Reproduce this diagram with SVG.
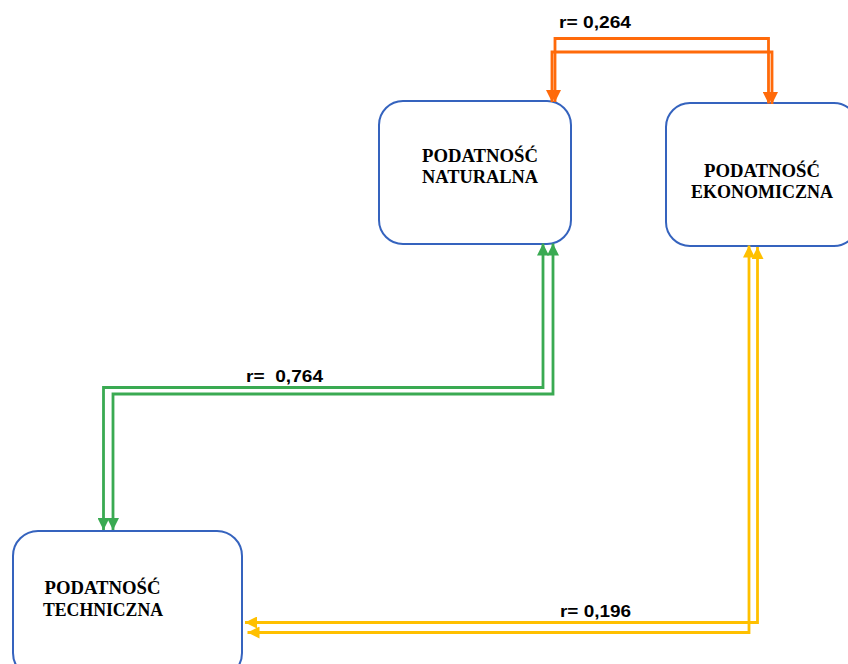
<svg xmlns="http://www.w3.org/2000/svg" width="848" height="664" viewBox="0 0 848 664">
  <style>
    .box { fill: #ffffff; stroke: #3563BE; stroke-width: 2; }
    .node-text { font-family: "Liberation Serif", "Times New Roman", serif; font-weight: bold; font-size: 19.5px; fill: #000000; text-anchor: middle; }
    .r-label { font-family: "Liberation Sans", Arial, sans-serif; font-weight: bold; font-size: 16px; fill: #000000; }
    .link { fill: none; stroke-width: 2.8; stroke-linejoin: miter; }
    .green { stroke: #3AAA52; }
    .gold { stroke: #FFC000; }
    .orange { stroke: #FF6A0A; }
  </style>
  <defs>
    <marker id="arrow-green" viewBox="0 0 12 12" refX="12" refY="6" markerWidth="12" markerHeight="12" markerUnits="userSpaceOnUse" orient="auto-start-reverse">
      <path d="M0,0 L12,6 L0,12 z" fill="#3AAA52"/>
    </marker>
    <marker id="arrow-gold" viewBox="0 0 12 12" refX="12" refY="6" markerWidth="12" markerHeight="12" markerUnits="userSpaceOnUse" orient="auto-start-reverse">
      <path d="M0,0 L12,6 L0,12 z" fill="#FFC000"/>
    </marker>
    <marker id="arrow-orange" viewBox="0 0 12 12" refX="12" refY="6" markerWidth="12" markerHeight="12" markerUnits="userSpaceOnUse" orient="auto-start-reverse">
      <path d="M0,0 L12,6 L0,12 z" fill="#FF6A0A"/>
    </marker>
  </defs>

  <rect width="848" height="664" fill="#ffffff"/>

  <!-- nodes -->
  <g id="node-naturalna">
    <rect class="box" x="379" y="101" width="192" height="143" rx="24" ry="24"/>
    <text class="node-text" x="480" y="162" textLength="116" lengthAdjust="spacingAndGlyphs">PODATNOŚĆ</text>
    <text class="node-text" x="480" y="182.5" textLength="116" lengthAdjust="spacingAndGlyphs">NATURALNA</text>
  </g>

  <g id="node-ekonomiczna">
    <rect class="box" x="666" y="103" width="192" height="143" rx="24" ry="24"/>
    <text class="node-text" x="762" y="177" textLength="116" lengthAdjust="spacingAndGlyphs">PODATNOŚĆ</text>
    <text class="node-text" x="762" y="198" textLength="142" lengthAdjust="spacingAndGlyphs">EKONOMICZNA</text>
  </g>

  <g id="node-techniczna">
    <rect class="box" x="13" y="531" width="229" height="147" rx="25" ry="25"/>
    <text class="node-text" x="102.5" y="594" textLength="116" lengthAdjust="spacingAndGlyphs">PODATNOŚĆ</text>
    <text class="node-text" x="103" y="616" textLength="120" lengthAdjust="spacingAndGlyphs">TECHNICZNA</text>
  </g>

  <!-- connectors -->
  <g id="connectors">
    <!-- naturalna <-> ekonomiczna -->
    <path class="link orange" d="M555,102 V38.5 H768.5 V103.5" marker-start="url(#arrow-orange)" marker-end="url(#arrow-orange)"/>
    <path class="link orange" d="M552,102 V52 H772 V104" marker-start="url(#arrow-orange)" marker-end="url(#arrow-orange)"/>

    <!-- naturalna <-> techniczna -->
    <path class="link green" d="M103.5,530 V387.5 H543 V243.5" marker-start="url(#arrow-green)" marker-end="url(#arrow-green)"/>
    <path class="link green" d="M113,530 V394 H553 V243.5" marker-start="url(#arrow-green)" marker-end="url(#arrow-green)"/>

    <!-- ekonomiczna <-> techniczna -->
    <path class="link gold" d="M245,622.5 H757.5 V247" marker-start="url(#arrow-gold)" marker-end="url(#arrow-gold)"/>
    <path class="link gold" d="M247.5,632.5 H749 V245.5" marker-start="url(#arrow-gold)" marker-end="url(#arrow-gold)"/>

    <text class="r-label" x="559" y="28.3" textLength="72" lengthAdjust="spacingAndGlyphs">r= 0,264</text>
    <text class="r-label" x="246" y="381.7" textLength="77" lengthAdjust="spacingAndGlyphs" xml:space="preserve">r=  0,764</text>
    <text class="r-label" x="560" y="616.7" textLength="71" lengthAdjust="spacingAndGlyphs">r= 0,196</text>
  </g>
</svg>
